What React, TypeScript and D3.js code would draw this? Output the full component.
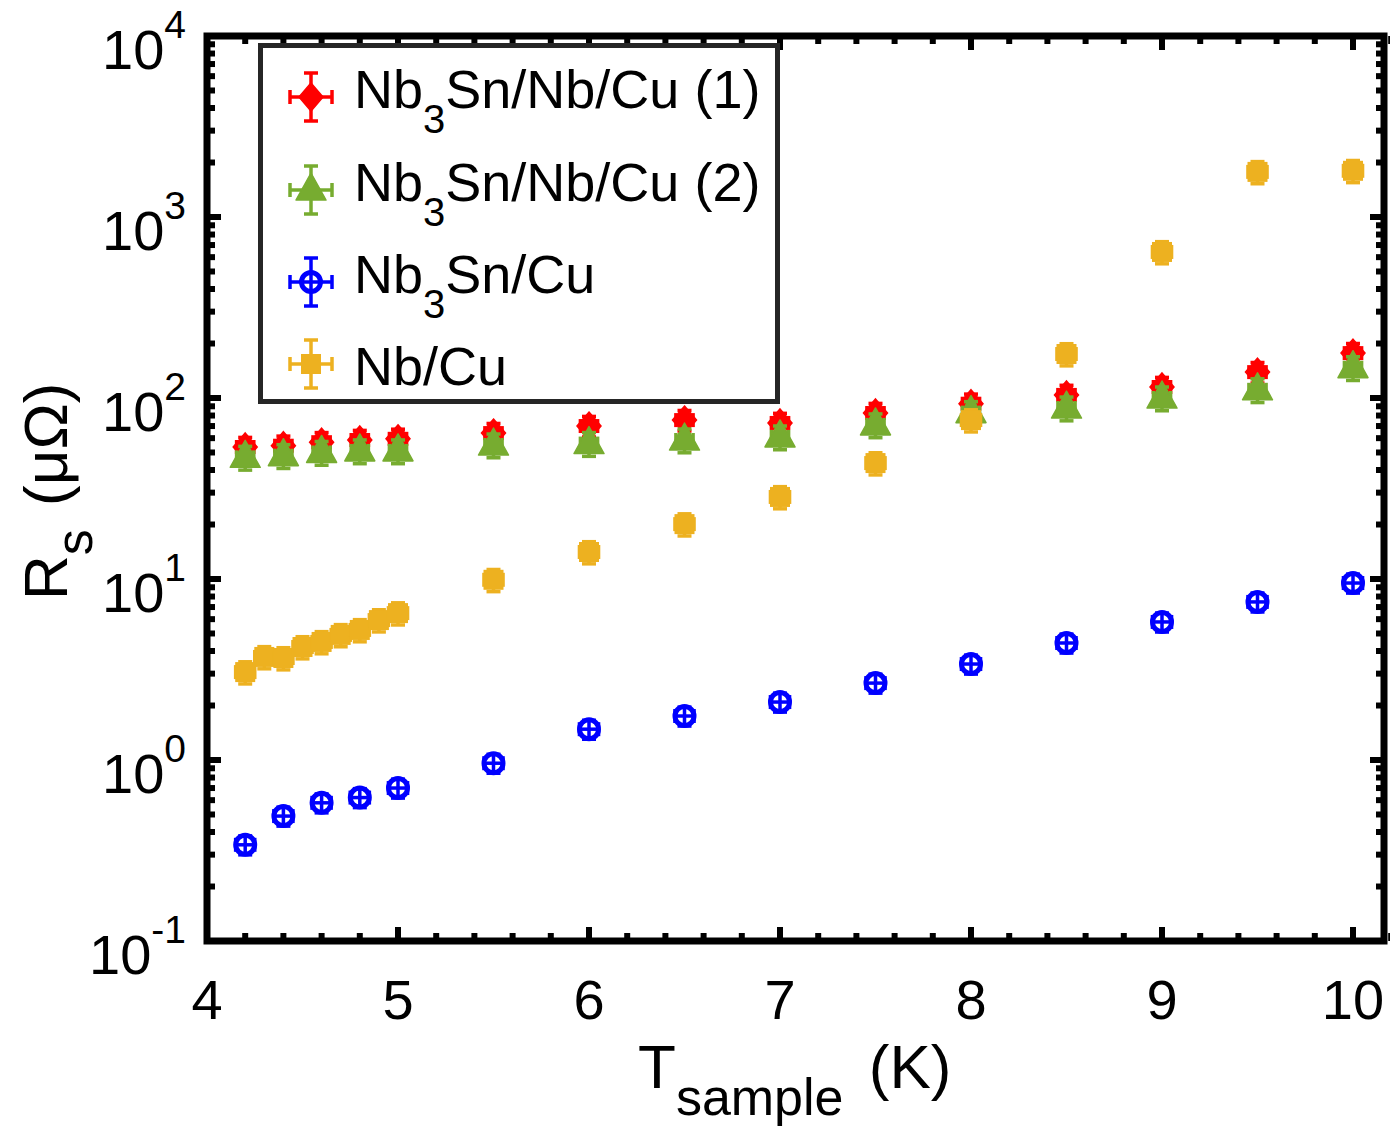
import React from "react";
import * as d3 from "d3";

// ---------- data ----------
const tempMain = [4.2, 4.4, 4.6, 4.8, 5.0, 5.5, 6, 6.5, 7, 7.5, 8, 8.5, 9, 9.5, 10];
const rsNb3SnNbCu1 = [53.6, 54.5, 57, 58.6, 59.5, 64, 70, 75.5, 72.8, 82.6, 93, 104, 115, 139, 177];
const rsNb3SnNbCu2 = [47, 48, 50, 51, 51, 55, 56, 58.6, 60.9, 71, 83, 88, 100, 111, 147];
const rsNb3SnCu = [0.34, 0.49, 0.58, 0.62, 0.70, 0.96, 1.48, 1.75, 2.09, 2.66, 3.39, 4.43, 5.79, 7.47, 9.5];
const tempNbCu = [4.2, 4.3, 4.4, 4.5, 4.6, 4.7, 4.8, 4.9, 5.0, 5.5, 6, 6.5, 7, 7.5, 8, 8.5, 9, 9.5, 10];
const rsNbCu = [3.06, 3.71, 3.66, 4.21, 4.49, 4.91, 5.23, 5.93, 6.48, 9.9, 14.1, 20.1, 28.4, 43.7, 75.5, 175, 641, 1775, 1800];

const xTickValues = [4, 5, 6, 7, 8, 9, 10];
const yTickExponents = [-1, 0, 1, 2, 3, 4];

type MarkerType = "diamond" | "triangle" | "circle" | "square";
interface Series {
  name: string[]; // [pre, sub, post]
  x: number[];
  y: number[];
  color: string;
  marker: MarkerType;
  yErrRel: number;
  xErr: number;
}

const series: Series[] = [
  { name: ["Nb", "3", "Sn/Nb/Cu (1)"], x: tempMain, y: rsNb3SnNbCu1, color: "#FF0000", marker: "diamond", yErrRel: 0.13, xErr: 0.045 },
  { name: ["Nb", "3", "Sn/Nb/Cu (2)"], x: tempMain, y: rsNb3SnNbCu2, color: "#77AC30", marker: "triangle", yErrRel: 0.15, xErr: 0.045 },
  { name: ["Nb", "3", "Sn/Cu"], x: tempMain, y: rsNb3SnCu, color: "#0000FF", marker: "circle", yErrRel: 0.12, xErr: 0.05 },
  { name: ["Nb/Cu", "", ""], x: tempNbCu, y: rsNbCu, color: "#EDB120", marker: "square", yErrRel: 0.14, xErr: 0.05 },
];

// ---------- layout ----------
const W = 1390;
const H = 1131;
const left = 207;
const right = 1384;
const top = 36;
const bottom = 941;
const FONT = "'Liberation Sans', Arial, Helvetica, sans-serif";

const xScale = d3.scaleLinear().domain([4, 4 + (right - left) / 191]).range([left, right]);
const yScale = d3.scaleLog().domain([0.1, 1e4]).range([bottom, top]);

function MarkerShape({ type, cx, cy, color }: { type: MarkerType; cx: number; cy: number; color: string }) {
  if (type === "diamond") {
    const p = d3.path();
    p.moveTo(cx, cy - 14);
    p.lineTo(cx + 12, cy);
    p.lineTo(cx, cy + 14);
    p.lineTo(cx - 12, cy);
    p.closePath();
    return <path d={p.toString()} fill={color} stroke={color} strokeWidth={1.5} />;
  }
  if (type === "triangle") {
    const p = d3.path();
    p.moveTo(cx, cy - 17);
    p.lineTo(cx + 15, cy + 10);
    p.lineTo(cx - 15, cy + 10);
    p.closePath();
    return <path d={p.toString()} fill={color} stroke={color} strokeWidth={1.5} strokeLinejoin="round" />;
  }
  if (type === "circle") {
    return <circle cx={cx} cy={cy} r={9.5} fill="none" stroke={color} strokeWidth={5} />;
  }
  return <rect x={cx - 10} y={cy - 10} width={20} height={20} fill={color} />;
}

function ErrorCross({ x0, x1, y0, y1, cx, cy, color, cap }: any) {
  return (
    <g stroke={color} strokeWidth={3.5} fill="none">
      <line x1={cx} x2={cx} y1={y0} y2={y1} />
      <line x1={cx - cap} x2={cx + cap} y1={y0} y2={y0} />
      <line x1={cx - cap} x2={cx + cap} y1={y1} y2={y1} />
      <line x1={x0} x2={x1} y1={cy} y2={cy} />
      <line x1={x0} x2={x0} y1={cy - cap} y2={cy + cap} />
      <line x1={x1} x2={x1} y1={cy - cap} y2={cy + cap} />
    </g>
  );
}

export default function App() {
  const xMinor = d3.range(4, 10.21, 0.2).map((v) => Math.round(v * 10) / 10);
  const yMinor: number[] = [];
  for (let e = -1; e < 4; e++) for (let m = 2; m <= 9; m++) yMinor.push(m * Math.pow(10, e));

  const legendRows = [
    { baseline: 108, my: 97 },
    { baseline: 201, my: 190 },
    { baseline: 293, my: 282 },
    { baseline: 385, my: 364 },
  ];

  return (
    <svg width={W} height={H} style={{ position: "absolute", left: 0, top: 0, background: "#fff" }} fontFamily={FONT}>
      <rect x={0} y={0} width={W} height={H} fill="#fff" />
      {/* data */}
      <g>
        {series.map((s, si) => (
          <g key={si}>
            {s.x.map((t, i) => {
              const v = s.y[i];
              const cx = xScale(t);
              const cy = yScale(v);
              return (
                <g key={i}>
                  <ErrorCross
                    cx={cx}
                    cy={cy}
                    x0={xScale(t - s.xErr)}
                    x1={xScale(t + s.xErr)}
                    y0={yScale(v * (1 + s.yErrRel))}
                    y1={yScale(v * (1 - s.yErrRel))}
                    color={s.color}
                    cap={7}
                  />
                  <MarkerShape type={s.marker} cx={cx} cy={cy} color={s.color} />
                </g>
              );
            })}
          </g>
        ))}
      </g>

      {/* axes box */}
      <g stroke="#000" strokeWidth={7} fill="none">
        {xMinor.map((v) => {
          const major = Math.abs(v - Math.round(v)) < 1e-6;
          const len = major ? 14 : 8;
          const x = xScale(v);
          return (
            <g key={"xt" + v}>
              <line x1={x} x2={x} y1={bottom} y2={bottom - len} strokeWidth={6} />
              <line x1={x} x2={x} y1={top} y2={top + len} strokeWidth={6} />
            </g>
          );
        })}
        {yMinor.map((v, i) => {
          const y = yScale(v);
          return (
            <g key={"ym" + i}>
              <line x1={left} x2={left + 8} y1={y} y2={y} strokeWidth={6} />
              <line x1={right} x2={right - 8} y1={y} y2={y} strokeWidth={6} />
            </g>
          );
        })}
        {yTickExponents.map((e) => {
          const y = yScale(Math.pow(10, e));
          return (
            <g key={"yM" + e}>
              <line x1={left} x2={left + 14} y1={y} y2={y} strokeWidth={6} />
              <line x1={right} x2={right - 14} y1={y} y2={y} strokeWidth={6} />
            </g>
          );
        })}
        <rect x={left} y={top} width={right - left} height={bottom - top} strokeLinejoin="miter" />
      </g>

      {/* tick labels */}
      <g fontSize={56} fill="#000">
        {xTickValues.map((v) => (
          <text key={"xl" + v} x={xScale(v)} y={1019} textAnchor="middle">
            {v}
          </text>
        ))}
        {yTickExponents.map((e) => {
          const y = yScale(Math.pow(10, e));
          return (
            <text key={"yl" + e} x={186} y={y + 33} textAnchor="end">
              <tspan>10</tspan>
              <tspan dy={-31} fontSize={39}>
                {e}
              </tspan>
            </text>
          );
        })}
      </g>

      {/* axis labels */}
      <text x={638} y={1088} fontSize={62} fill="#000">
        <tspan>T</tspan>
        <tspan dy={27} fontSize={52}>sample</tspan>
        <tspan dy={-27} dx={8}> (K)</tspan>
      </text>
      <text transform="translate(67,600) rotate(-90)" fontSize={62} fill="#000">
        <tspan>R</tspan>
        <tspan dy={25} fontSize={52}>s</tspan>
        <tspan dy={-25} dx={6}> (μΩ)</tspan>
      </text>

      {/* legend */}
      <g>
        <rect x={260.5} y={45.5} width={517} height={356} fill="#fff" stroke="#262626" strokeWidth={5} />
        {series.map((s, i) => {
          const row = legendRows[i];
          const cx = 311;
          const cy = row.my;
          return (
            <g key={"lg" + i}>
              <ErrorCross cx={cx} cy={cy} x0={cx - 21} x1={cx + 21} y0={cy - 24} y1={cy + 24} color={s.color} cap={7} />
              <MarkerShape type={s.marker} cx={cx} cy={cy} color={s.color} />
              <text x={354} y={row.baseline} fontSize={54} fill="#000">
                <tspan>{s.name[0]}</tspan>
                {s.name[1] ? (
                  <>
                    <tspan dy={25} fontSize={40}>
                      {s.name[1]}
                    </tspan>
                    <tspan dy={-25}>{s.name[2]}</tspan>
                  </>
                ) : null}
              </text>
            </g>
          );
        })}
      </g>
    </svg>
  );
}
